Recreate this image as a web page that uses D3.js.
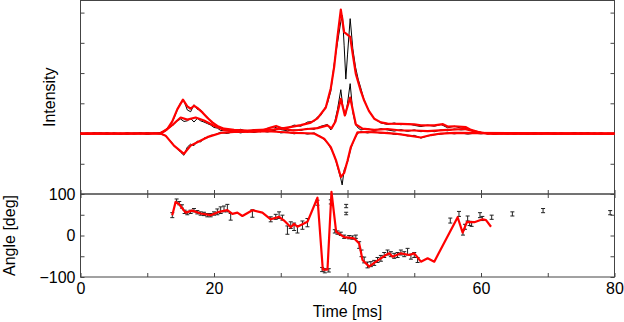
<!DOCTYPE html>
<meta charset="utf-8">
<style>
  body { margin: 0; background: #fff; }
  text { font-family: "Liberation Sans", Arial, sans-serif; }
</style>
<body>
<script src="https://cdn.jsdelivr.net/npm/d3@7/dist/d3.min.js"></script>
<script>

// ---- data ----
// intensity, fitted (red) curves: [time ms, value]
var redA = [[0,0],[12,0.01],[13,0.15],[13.75,0.4],[14.5,0.8],[15.35,1.12],[16,0.9],[16.5,0.82],[17,0.92],[17.5,0.85],[18.3,0.69],[19,0.52],[19.8,0.36],[20.5,0.25],[21.5,0.16],[23,0.12],[25,0.1],[27,0.12],[29,0.14],[30.5,0.18],[31.8,0.23],[33,0.28],[34.5,0.36],[35.5,0.5],[36.75,0.86],[37.5,1.5],[38,2.2],[38.5,3.2],[39,4.1],[39.5,3.35],[40.4,3.2],[40.8,2.6],[41.25,1.97],[42,1.4],[42.5,1.09],[43.2,0.75],[44,0.49],[45,0.37],[46,0.33],[48,0.32],[50,0.3],[51,0.27],[53,0.27],[54.3,0.31],[55,0.23],[56,0.24],[57.75,0.21],[58.5,0.12],[60,0.02],[62,0],[80,0]];
var redB = [[0,0],[12,0.01],[12.75,0.1],[14,0.33],[15,0.53],[16,0.46],[17.25,0.53],[18.5,0.43],[20,0.26],[21.5,0.12],[23,0.08],[25,0.07],[27,0.08],[28.5,0.2],[29.3,0.25],[30.5,0.15],[32,0.1],[34,0.15],[35.5,0.18],[37,0.27],[37.6,0.17],[38.2,0.4],[39,1.15],[39.6,0.6],[40.4,1.19],[41.25,0.3],[42.25,0.16],[44,0.12],[46,0.15],[48,0.1],[50,0.1],[52,0.08],[55,0.12],[57.5,0.15],[59.5,0.05],[61,0],[80,0]];
var redC = [[0,0],[12,0],[12.75,-0.07],[14,-0.4],[15.5,-0.67],[16.5,-0.4],[17.5,-0.29],[19,-0.12],[21,0.02],[23,0.05],[26,0.06],[28,0.08],[30,0.05],[32,0.02],[34,0.01],[35,0],[36.5,-0.17],[37.5,-0.45],[38.3,-0.9],[39,-1.44],[39.5,-1.3],[40,-0.9],[40.5,-0.45],[41.5,0.04],[43,0.05],[45,0.03],[47,0],[49,-0.06],[51,-0.13],[52.5,-0.05],[54,0],[56,0.02],[80,0]];

// intensity, measured (black) curves
var blackA = [[0,0.02],[1,-0.03],[2,0.02],[3,-0.01],[4,0.03],[5,-0.02],[6,0.01],[7,-0.03],[8,0.02],[9,-0.01],[10,0.03],[11,0],[12,0.04],[12.5,0.08],[13,0.18],[13.5,0.3],[14,0.5],[14.5,0.78],[15,1.02],[15.5,1.08],[16,0.78],[16.5,0.72],[17,0.95],[17.5,0.8],[18,0.78],[18.5,0.62],[19,0.55],[19.5,0.4],[20,0.33],[20.5,0.22],[21,0.2],[21.5,0.12],[22,0.15],[23,0.08],[24,0.14],[25,0.06],[26,0.13],[27,0.09],[28,0.15],[29,0.1],[30,0.2],[31,0.17],[32,0.28],[33,0.24],[34,0.38],[35,0.4],[35.5,0.55],[36,0.6],[36.5,0.8],[37,1.0],[37.5,1.4],[38,2.3],[38.5,3.0],[39,3.7],[39.25,3.9],[39.5,2.9],[39.75,1.8],[40,2.6],[40.4,3.8],[40.8,2.8],[41.2,2.2],[41.6,1.8],[42,1.5],[42.5,1.1],[43,0.85],[43.5,0.65],[44,0.5],[44.5,0.42],[45,0.35],[46,0.3],[47,0.35],[48,0.29],[49,0.33],[50,0.27],[51,0.23],[52,0.28],[53,0.24],[54,0.3],[55,0.19],[56,0.24],[57,0.18],[58,0.15],[59,0.07],[60,0.04],[61,-0.02],[62,0.03],[63,-0.01],[64,0.02],[65,-0.03],[66,0.02],[67,0],[68,0.03],[69,-0.02],[70,0.01],[71,-0.03],[72,0.02],[73,0],[74,0.03],[75,-0.02],[76,0.01],[77,-0.01],[78,0.02],[79,-0.02],[80,0.01]];
var blackB = [[0,-0.02],[1,0.02],[2,-0.01],[3,0.03],[4,-0.02],[5,0.01],[6,-0.03],[7,0.02],[8,0],[9,0.03],[10,-0.02],[11,0.02],[12,0],[12.5,0.05],[13,0.14],[13.5,0.22],[14,0.3],[14.5,0.42],[15,0.48],[15.5,0.4],[16,0.42],[16.5,0.5],[17,0.38],[17.5,0.5],[18,0.42],[18.5,0.38],[19,0.33],[19.5,0.28],[20,0.2],[20.5,0.18],[21,0.1],[22,0.09],[23,0.04],[24,0.1],[25,0.05],[26,0.1],[27,0.06],[28,0.17],[29,0.22],[30,0.13],[31,0.09],[32,0.12],[33,0.1],[34,0.17],[35,0.14],[36,0.24],[37,0.3],[37.5,0.12],[38,0.3],[38.5,0.8],[39,1.45],[39.3,0.9],[39.7,0.6],[40,1.0],[40.4,1.65],[40.8,0.7],[41.2,0.3],[41.6,0.18],[42,0.12],[43,0.16],[44,0.1],[45,0.16],[46,0.12],[47,0.08],[48,0.13],[49,0.07],[50,0.12],[51,0.06],[52,0.1],[53,0.06],[54,0.12],[55,0.09],[56,0.15],[57,0.12],[58,0.14],[59,0.06],[60,0.02],[61,0.03],[62,-0.02],[63,0.02],[64,-0.01],[65,0.03],[66,-0.02],[67,0.01],[68,-0.03],[69,0.02],[70,0],[71,0.02],[72,-0.02],[73,0.01],[74,-0.02],[75,0.03],[76,-0.01],[77,0.02],[78,-0.03],[79,0.01],[80,0]];
var blackC = [[0,0.01],[1,-0.02],[2,0.02],[3,0],[4,-0.03],[5,0.02],[6,-0.01],[7,0.02],[8,-0.02],[9,0.01],[10,-0.03],[11,0.01],[12,-0.02],[12.5,-0.05],[13,-0.12],[13.5,-0.25],[14,-0.38],[14.5,-0.5],[15,-0.62],[15.5,-0.72],[16,-0.45],[16.5,-0.35],[17,-0.4],[17.5,-0.25],[18,-0.28],[18.5,-0.15],[19,-0.14],[19.5,-0.06],[20,-0.05],[21,0.04],[22,0],[23,0.07],[24,0.02],[25,0.08],[26,0.03],[27,0.09],[28,0.05],[29,0.1],[30,0.02],[31,0.05],[32,-0.01],[33,0.03],[34,-0.02],[35,0.02],[35.5,-0.05],[36,-0.1],[36.5,-0.2],[37,-0.3],[37.5,-0.5],[38,-0.7],[38.5,-1.1],[39,-1.5],[39.2,-1.7],[39.5,-1.2],[40,-0.95],[40.5,-0.5],[41,-0.2],[41.5,0],[42,0.06],[43,0.02],[44,0.06],[45,0.01],[46,0.04],[47,-0.03],[48,-0.02],[49,-0.08],[50,-0.06],[51,-0.15],[52,-0.08],[53,-0.04],[54,-0.02],[55,0.02],[56,-0.01],[57,0.02],[58,-0.02],[59,0.01],[60,-0.01],[61,0.02],[62,-0.03],[63,0.01],[64,-0.02],[65,0.02],[66,0],[67,-0.03],[68,0.02],[69,-0.01],[70,0.03],[71,-0.02],[72,0.01],[73,-0.02],[74,0.02],[75,-0.01],[76,0.03],[77,-0.02],[78,0.01],[79,-0.02],[80,0.01]];

// angle, fitted line
var angleLine = [[13.75,49],[14.25,81],[14.75,76],[15.75,55],[16.75,60],[18,53],[19.5,49],[20.75,57],[22,61],[22.75,52],[23.5,55],[24.25,47],[25.75,61],[27.25,55],[28.5,39],[29.75,45],[30.5,36],[31.5,20],[32,28],[32.5,21],[34,33],[35.5,91],[36.3,-82],[37,-82],[37.6,105],[38.3,9],[39.5,-4],[41,-7],[41.75,-19],[42.25,-59],[43.25,-75],[44,-66],[45,-55],[45.75,-47],[46.25,-43],[46.75,-51],[48,-43],[49.25,-47],[50,-43],[51,-63],[52,-55],[53,-63],[56.5,44],[57.25,7],[57.9,33],[59,32],[60.25,39],[60.75,37],[61.5,21]];

// angle, measured points with error bars
var barTime  = [13.75,14.4,14.8,15.2,15.6,16,16.5,17,17.5,18,18.5,19,19.5,20,20.5,21,21.5,22,22.5,25.75,28.5,29.25,29.75,30.25,31,31.5,32,32.5,33.25,34,35.5,36.2,36.6,37.2,37.5,38.1,38.5,39,39.5,39.8,39.8,40.25,40.75,41.25,41.75,42.1,42.5,43,43.5,44,44.5,45,45.5,46,46.5,47,47.5,48,48.5,49,49.5,50,50.5,55.4,56.7,57.3,57.6,58,58.3,58.6,59.85,60.2,61.6,64.7,69.3,79.35];
var barAngle = [49,83,78,70,57,54,57,61,56,53,52,49,49,53,57,61,64,66,45,53,39,45,49,43,13,25,21,15,25,31,79,-82,-85,-84,81,10,7,4,-3,71,53,-4,-5,-3,-23,-43,-59,-71,-69,-66,-59,-55,-47,-41,-45,-49,-47,-41,-45,-39,-51,-47,-59,36,52,7,21,41,29,27,49,41,44,52,60,55];
var barErr   = [6,5,4,4,4,4,4,4,4,4,4,4,4,4,7,8,7,9,8,9,6,6,8,6,10,8,9,9,10,10,6,5,5,4,5,4,4,4,4,4,3,4,4,4,8,8,7,7,6,6,6,7,6,6,6,6,6,6,6,8,6,6,6,6,6,6,6,6,5,5,6,5,5,5,5,5];

var xTicks = [0,10,20,30,40,50,60,70,80];
var intensityTicks = [-1,0,1,2,3,4];
var angleTicks = [-100,-50,0,50,100];

// ---- layout ----
var W = 624, H = 322;
var left = 80.5, right = 614.5;
var topY = 0.5, midY = 194, botY = 277;

var svg = d3.select("body").append("svg")
    .attr("width", W)
    .attr("height", H);

var x = d3.scaleLinear().domain([0, 80]).range([left, right]);
var yI = d3.scaleLinear().domain([-2, 4.4]).range([midY, topY]);
var yA = d3.scaleLinear().domain([-100, 100]).range([botY, midY]);

var frameColor = "#444";

function styleAxis(g) {
  g.select(".domain").remove();
  g.selectAll(".tick line").attr("stroke", frameColor);
  g.selectAll(".tick text")
      .attr("fill", "#000")
      .style("font-size", "16px")
      .style("font-family", "'Liberation Sans', Arial, sans-serif");
}

// ticks, top panel (no labels)
svg.append("g")
    .attr("transform", "translate(" + left + ",0)")
    .call(d3.axisLeft(yI).tickValues(intensityTicks).tickSize(-4).tickFormat(""))
    .call(styleAxis);
svg.append("g")
    .attr("transform", "translate(" + right + ",0)")
    .call(d3.axisRight(yI).tickValues(intensityTicks).tickSize(-4).tickFormat(""))
    .call(styleAxis);
svg.append("g")
    .attr("transform", "translate(0," + midY + ")")
    .call(d3.axisBottom(x).tickValues(xTicks).tickSize(-4).tickFormat(""))
    .call(styleAxis);
svg.append("g")
    .attr("transform", "translate(0," + midY + ")")
    .call(d3.axisTop(x).tickValues(xTicks).tickSize(-4).tickFormat(""))
    .call(styleAxis);

// ticks, bottom panel
svg.append("g")
    .attr("transform", "translate(" + left + ",0)")
    .call(d3.axisLeft(yA).tickValues(angleTicks).tickSize(-4).tickPadding(5)
      .tickFormat(function(d) { return d % 100 === 0 ? d3.format("d")(d) : ""; }))
    .call(styleAxis);
svg.append("g")
    .attr("transform", "translate(" + right + ",0)")
    .call(d3.axisRight(yA).tickValues(angleTicks).tickSize(-4).tickFormat(""))
    .call(styleAxis);
svg.append("g")
    .attr("transform", "translate(0," + botY + ")")
    .call(d3.axisBottom(x).tickValues(xTicks).tickSize(-4).tickPadding(6)
      .tickFormat(function(d) { return d % 20 === 0 ? d : ""; }))
    .call(styleAxis);

// frames
svg.append("rect")
    .attr("x", left).attr("y", topY)
    .attr("width", right - left).attr("height", midY - topY)
    .attr("fill", "none").attr("stroke", frameColor).attr("stroke-width", 1);
svg.append("rect")
    .attr("x", left).attr("y", midY)
    .attr("width", right - left).attr("height", botY - midY)
    .attr("fill", "none").attr("stroke", frameColor).attr("stroke-width", 1);

// intensity curves
var lineI = d3.line()
    .x(function(d) { return x(d[0]); })
    .y(function(d) { return yI(d[1]); });

[blackA, blackB, blackC].forEach(function(s) {
  svg.append("path")
      .datum(s)
      .attr("d", lineI)
      .attr("fill", "none")
      .attr("stroke", "#000")
      .attr("stroke-width", 1);
});
[redA, redB, redC].forEach(function(s) {
  svg.append("path")
      .datum(s)
      .attr("d", lineI)
      .attr("fill", "none")
      .attr("stroke", "#ff0000")
      .attr("stroke-width", 2.2)
      .attr("stroke-linejoin", "round");
});

// angle error bars
var bars = barTime.map(function(t, i) {
  return {t: t, a: barAngle[i], e: barErr[i]};
});
var gb = svg.append("g").attr("stroke", "#222").attr("stroke-width", 1);
bars.forEach(function(d) {
  var cx = x(d.t), y0 = yA(d.a - d.e), y1 = yA(d.a + d.e);
  gb.append("line").attr("x1", cx).attr("x2", cx).attr("y1", y0).attr("y2", y1);
  gb.append("line").attr("x1", cx - 2).attr("x2", cx + 2).attr("y1", y0).attr("y2", y0);
  gb.append("line").attr("x1", cx - 2).attr("x2", cx + 2).attr("y1", y1).attr("y2", y1);
});

var lineA = d3.line()
    .x(function(d) { return x(d[0]); })
    .y(function(d) { return yA(d[1]); });

svg.append("path")
    .datum(angleLine)
    .attr("d", lineA)
    .attr("fill", "none")
    .attr("stroke", "#ff0000")
    .attr("stroke-width", 2.2)
    .attr("stroke-linejoin", "round");

// axis titles
svg.append("text")
    .attr("x", (left + right) / 2)
    .attr("y", 317)
    .attr("text-anchor", "middle")
    .style("font-size", "16px")
    .text("Time [ms]");

svg.append("text")
    .attr("transform", "translate(55," + ((topY + midY) / 2) + ") rotate(-90)")
    .attr("text-anchor", "middle")
    .style("font-size", "16px")
    .text("Intensity");

svg.append("text")
    .attr("transform", "translate(15," + ((midY + botY) / 2) + ") rotate(-90)")
    .attr("text-anchor", "middle")
    .style("font-size", "16px")
    .text("Angle [deg]");

</script>
</body>
